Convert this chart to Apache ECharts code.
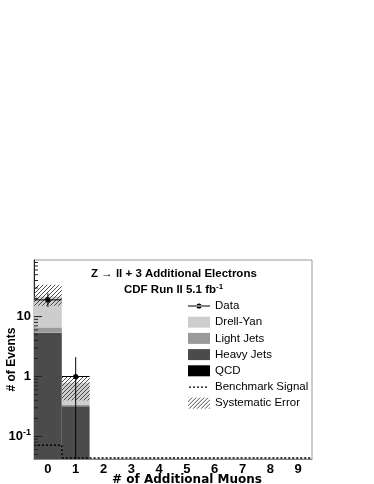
<!DOCTYPE html>
<html>
<head>
<meta charset="utf-8">
<script src="https://cdn.jsdelivr.net/npm/echarts@6/dist/echarts.min.js"></script>
<style>
  html, body { margin: 0; padding: 0; background: #fff; }
  #chart { width: 374px; height: 484px; }
</style>
</head>
<body>
<div id="chart"></div>
<script>
// bin labels (number of additional muons)
var bins = ['0', '1', '2', '3', '4', '5', '6', '7', '8', '9'];

// stacked backgrounds, events per bin
var qcd       = [0,    0,    0, 0, 0, 0, 0, 0, 0, 0];
var heavyJets = [5.4,  0.32, 0, 0, 0, 0, 0, 0, 0, 0];
var lightJets = [1.2,  0.02, 0, 0, 0, 0, 0, 0, 0, 0];
var drellYan  = [15.0, 0.45, 0, 0, 0, 0, 0, 0, 0, 0];

// observed data with error bar ends
var dataCounts  = [19,   1,   0, 0, 0, 0, 0, 0, 0, 0];
var dataErrLow  = [14.5, 0,   0, 0, 0, 0, 0, 0, 0, 0];
var dataErrHigh = [24.5, 2.1, 0, 0, 0, 0, 0, 0, 0, 0];

// systematic error band (lower / upper)
var sysLow  = [15.2, 0.40, 0, 0, 0, 0, 0, 0, 0, 0];
var sysHigh = [34,   1.0,  0, 0, 0, 0, 0, 0, 0, 0];

// benchmark signal
var signal = [0.071, 0, 0, 0, 0, 0, 0, 0, 0, 0];

// log axis ticks
var yMajorTicks = [0.1, 1, 10];
var yMinorTicks = [0.05, 0.06, 0.07, 0.08, 0.09,
                   0.2, 0.3, 0.4, 0.5, 0.6, 0.7, 0.8, 0.9,
                   2, 3, 4, 5, 6, 7, 8, 9,
                   20, 30, 40, 50, 60, 70, 80];
var yMin = 0.042, yMax = 88;

var font = "'Liberation Sans', Arial, Helvetica, sans-serif";

// hatch pattern for systematic error
var hc = document.createElement('canvas');
hc.width = 4; hc.height = 4;
var g = hc.getContext('2d');
g.strokeStyle = '#3a3a3a';
g.lineWidth = 0.9;
g.beginPath();
g.moveTo(0, 4); g.lineTo(4, 0);
g.moveTo(-1, 1); g.lineTo(1, -1);
g.moveTo(3, 5); g.lineTo(5, 3);
g.stroke();
var hatch = { image: hc, repeat: 'repeat' };

function clampY(v) { return Math.max(v, yMin); }

function renderBin(params, api) {
  var i = api.value(0), lo = api.value(1), hi = api.value(2);
  if (!(hi > lo)) return null;
  var w = api.size([1, 1], [i, 1])[0];
  var top = api.coord([i, hi]);
  var bot = api.coord([i, lo]);
  return {
    type: 'rect',
    shape: { x: top[0] - w / 2, y: top[1], width: w, height: bot[1] - top[1] },
    style: { fill: api.visual('color') }
  };
}

// stacked histogram
var stackDefs = [
  { name: 'QCD', values: qcd, color: '#000000' },
  { name: 'Heavy Jets', values: heavyJets, color: '#4b4b4b' },
  { name: 'Light Jets', values: lightJets, color: '#9a9a9a' },
  { name: 'Drell-Yan', values: drellYan, color: '#cdcdcd' }
];
var cum = bins.map(function () { return 0; });
var series = stackDefs.map(function (d) {
  var rows = bins.map(function (b, i) {
    var lo = cum[i], hi = cum[i] + d.values[i];
    cum[i] = hi;
    return [i, clampY(lo), clampY(hi)];
  });
  return {
    type: 'custom', name: d.name, z: 1, silent: true,
    itemStyle: { color: d.color },
    encode: { x: 0, y: [1, 2] },
    renderItem: renderBin,
    data: rows
  };
});

// systematic band
var sysRows = [];
bins.forEach(function (b, i) {
  if (sysHigh[i] > 0) sysRows.push([i, clampY(sysLow[i]), clampY(sysHigh[i])]);
});
series.push({
  type: 'custom', name: 'Systematic Error', z: 3, silent: true,
  itemStyle: { color: hatch },
  encode: { x: 0, y: [1, 2] },
  renderItem: renderBin,
  data: sysRows
});

// benchmark signal, dotted step line
var sigRows = bins.map(function (b, i) {
  return [i, clampY(signal[i]), clampY(i > 0 ? signal[i - 1] : signal[i])];
});
series.push({
  type: 'custom', name: 'Benchmark Signal', z: 4, silent: true,
  itemStyle: { color: '#000' },
  encode: { x: 0, y: [1, 2] },
  renderItem: function (params, api) {
    var i = api.value(0);
    var w = api.size([1, 1], [i, 1])[0];
    var p = api.coord([i, api.value(1)]);
    var q = api.coord([i, api.value(2)]);
    var y = p[1] - (api.value(1) <= yMin ? 1 : 0);
    var yq = q[1] - (api.value(2) <= yMin ? 1 : 0);
    var st = { stroke: '#000', lineWidth: 1.5, lineDash: [2, 2] };
    var kids = [{ type: 'line', shape: { x1: p[0] - w / 2, y1: y, x2: p[0] + w / 2, y2: y }, style: st }];
    if (i > 0 && yq !== y) {
      kids.push({ type: 'line', shape: { x1: p[0] - w / 2, y1: yq, x2: p[0] - w / 2, y2: y }, style: st });
    }
    return { type: 'group', children: kids };
  },
  data: sigRows
});

// data points with error bars
var dataRows = [];
bins.forEach(function (b, i) {
  if (dataCounts[i] > 0) dataRows.push([i, dataCounts[i], clampY(dataErrLow[i]), dataErrHigh[i]]);
});
series.push({
  type: 'custom', name: 'Data', z: 5, silent: true,
  itemStyle: { color: '#000' },
  encode: { x: 0, y: [1, 2, 3] },
  renderItem: function (params, api) {
    var i = api.value(0);
    var w = api.size([1, 1], [i, 1])[0];
    var c = api.coord([i, api.value(1)]);
    var lo = api.coord([i, api.value(2)]);
    var hi = api.coord([i, api.value(3)]);
    var st = { stroke: '#000', lineWidth: 1 };
    return {
      type: 'group',
      children: [
        { type: 'line', shape: { x1: c[0], y1: hi[1], x2: c[0], y2: lo[1] }, style: st },
        { type: 'line', shape: { x1: c[0] - w / 2, y1: c[1], x2: c[0] + w / 2, y2: c[1] }, style: st },
        { type: 'circle', shape: { cx: c[0], cy: c[1], r: 2.6 }, style: { fill: '#000' } }
      ]
    };
  },
  data: dataRows
});

// y ticks drawn inside the frame
var tickRows = yMajorTicks.map(function (v) { return [0, v, 8]; })
  .concat(yMinorTicks.map(function (v) { return [0, v, 4]; }));
series.push({
  type: 'custom', z: 6, silent: true,
  encode: { x: 0, y: 1 },
  renderItem: function (params, api) {
    var w = api.size([1, 1], [0, 1])[0];
    var p = api.coord([0, api.value(1)]);
    var x0 = p[0] - w / 2;
    return {
      type: 'line',
      shape: { x1: x0, y1: p[1], x2: x0 + api.value(2), y2: p[1] },
      style: { stroke: '#222', lineWidth: 1 }
    };
  },
  data: tickRows
});

var chart = echarts.init(document.getElementById('chart'));

var option = {
  animation: false,
  backgroundColor: '#fff',
  title: [
    {
      text: 'Z \u2192 ll + 3 Additional Electrons',
      left: 91, top: 268, padding: 0,
      textStyle: { fontSize: 11.5, fontWeight: 'bold', color: '#000', fontFamily: font }
    },
    {
      text: '{a|CDF Run II 5.1 fb}{s|-1}',
      left: 124, top: 283, padding: 0,
      textStyle: {
        rich: {
          a: { fontSize: 11.5, fontWeight: 'bold', color: '#000', fontFamily: font, lineHeight: 14 },
          s: { fontSize: 8, fontWeight: 'bold', color: '#000', fontFamily: font, lineHeight: 9, verticalAlign: 'top' }
        }
      }
    }
  ],
  legend: {
    orient: 'vertical',
    left: 188, top: 300,
    padding: 0,
    itemWidth: 22, itemHeight: 11, itemGap: 4.2,
    selectedMode: false,
    textStyle: { fontSize: 11.5, color: '#000', fontFamily: font },
    data: [
      { name: 'Data', icon: 'path://M0,0M22,11M0,5.1h22v0.8h-22zM8.4,5.5a2.6,2.6 0 1,0 5.2,0a2.6,2.6 0 1,0 -5.2,0z', itemStyle: { color: '#000' } },
      { name: 'Drell-Yan', icon: 'rect' },
      { name: 'Light Jets', icon: 'rect' },
      { name: 'Heavy Jets', icon: 'rect' },
      { name: 'QCD', icon: 'rect' },
      { name: 'Benchmark Signal', icon: 'path://M0,0M22,11M1,5h2v1.3h-2zM5,5h2v1.3h-2zM9,5h2v1.3h-2zM13,5h2v1.3h-2zM17,5h2v1.3h-2z', itemStyle: { color: '#000' } },
      { name: 'Systematic Error', icon: 'rect', itemStyle: { color: hatch } }
    ]
  },
  grid: {
    left: 34, right: 62, top: 260, bottom: 25,
    outerBoundsMode: 'none',
    containLabel: false,
    show: true, borderColor: '#999', borderWidth: 1
  },
  xAxis: {
    type: 'category',
    data: bins,
    boundaryGap: true,
    axisLine: { lineStyle: { color: '#888' } },
    axisTick: { inside: true, alignWithLabel: true, length: 4, lineStyle: { color: '#333' } },
    axisLabel: { margin: 4, fontSize: 13, fontWeight: 'bold', color: '#000', fontFamily: font },
    splitLine: { show: false },
    name: '# of Additional Muons',
    nameLocation: 'middle',
    nameGap: 15,
    nameMoveOverlap: false,
    nameTextStyle: { fontSize: 12, fontWeight: 'bold', color: '#000', fontFamily: "'DejaVu Sans', sans-serif", padding: [0, 0, 0, 28] }
  },
  yAxis: {
    type: 'log',
    logBase: 10,
    min: yMin,
    max: yMax,
    axisLine: { show: true, lineStyle: { color: '#222' } },
    axisTick: { show: false },
    splitLine: { show: false },
    minorSplitLine: { show: false },
    axisLabel: {
      margin: 3,
      fontSize: 13, fontWeight: 'bold', color: '#000', fontFamily: font,
      formatter: function (v) {
        var l = Math.log10(v), e = Math.round(l);
        if (Math.abs(l - e) > 1e-6) return '';
        if (e === 0) return '1';
        if (e === 1) return '10';
        return '{b|10}{s|' + e + '}';
      },
      rich: {
        b: { fontSize: 13, fontWeight: 'bold', color: '#000', fontFamily: font, lineHeight: 16 },
        s: { fontSize: 9, fontWeight: 'bold', color: '#000', fontFamily: font, lineHeight: 10, verticalAlign: 'top' }
      }
    },
    name: '# of Events',
    nameLocation: 'middle',
    nameGap: 16,
    nameMoveOverlap: false,
    nameTextStyle: { fontSize: 12, fontWeight: 'bold', color: '#000', fontFamily: font }
  },
  series: series
};

chart.setOption(option);
</script>
</body>
</html>
